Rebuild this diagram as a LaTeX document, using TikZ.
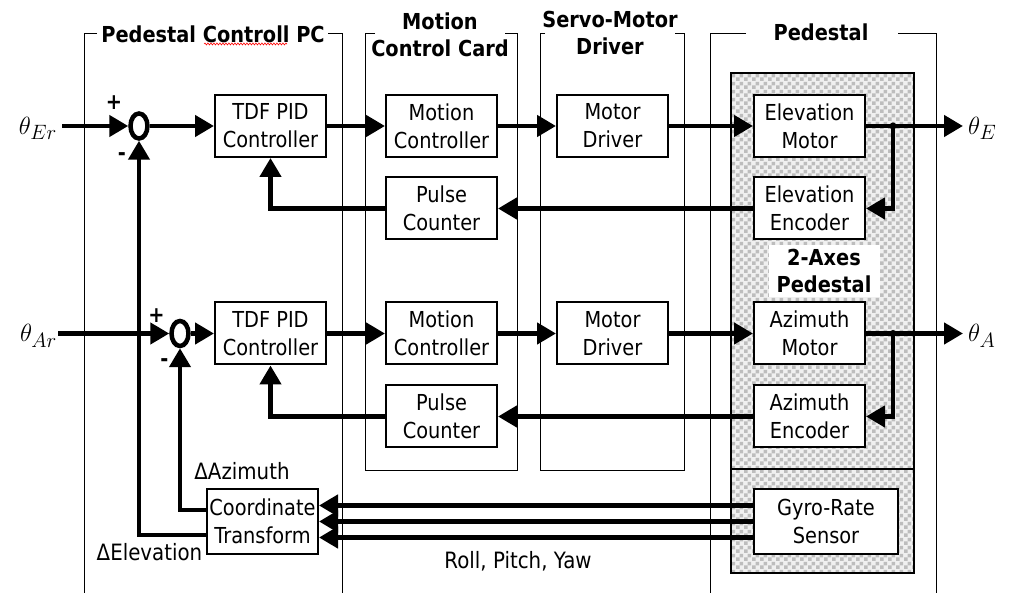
\documentclass[tikz,border=0pt]{standalone}
\usepackage{fontspec}
\setmainfont{DejaVu Sans}[FakeStretch=0.88]
\usetikzlibrary{arrows.meta,shapes.geometric,patterns.meta,decorations.pathmorphing}
\tikzdeclarepattern{
  name=chk,
  type=uncolored,
  bounding box={(0pt,0pt) and (8pt,8pt)},
  tile size={(8pt,8pt)},
  code={\fill (0pt,0pt) rectangle (4pt,4pt); \fill (4pt,4pt) rectangle (8pt,8pt);}
}
\tikzset{
  blk/.style={draw, line width=2pt, fill=white, minimum width=111pt, minimum height=62pt,
    align=center, inner sep=0pt, font=\fontsize{22}{28}\selectfont},
  ttl/.style={font=\bfseries\fontsize{22}{27}\selectfont, align=center, inner sep=0pt},
  frm/.style={line width=1pt},
  sig/.style={line width=4.5pt, -{Triangle[length=19pt,width=21pt]}},
  sumnode/.style={ellipse, draw, line width=4.5pt, minimum width=17pt, minimum height=25pt, inner sep=0pt},
  sgn/.style={font=\bfseries\fontsize{22}{22}\selectfont, inner sep=0pt},
  lbl/.style={font=\fontsize{22.5}{24}\selectfont, inner sep=0pt},
  thl/.style={font=\fontsize{32}{32}\selectfont, inner ysep=0pt}
}
\begin{document}
\begin{tikzpicture}[x=1pt,y=-1pt]
\useasboundingbox (0,0) rectangle (1010,593);
\fill[white] (0,0) rectangle (1010,593);
% frames
\draw[frm] (97,34) -- (84,34) -- (84,593);
\draw[frm] (328,34) -- (342,34) -- (342,593);
\node[ttl] (tPC) at (213,34) {Pedestal Controll PC};
\draw[red, line width=0.6pt, decorate, decoration={snake, amplitude=1pt, segment length=3pt}] (204,44) -- (287,44);
\draw[frm] (375,34) -- (365,34) -- (365,471) -- (517,471) -- (517,34) -- (505,34);
\node[ttl] (tMC) at (440,35) {Motion\\Control Card};
\draw[frm] (545,34) -- (540,34) -- (540,471) -- (684,471) -- (684,34) -- (675,34);
\node[ttl] (tSD) at (610,33) {Servo-Motor\\Driver};
\draw[frm] (746,34) -- (710,34) -- (710,593);
\draw[frm] (898,34) -- (936,34) -- (936,593);
\node[ttl] (tPD) at (821,32) {Pedestal};
% pedestal shaded box
\fill[white!94!black] (731,73) rectangle (914,573);
\fill[pattern=chk, pattern color=black!26] (731,73) rectangle (914,573);
\draw[line width=2pt] (731,73) rectangle (914,573);
\draw[line width=2pt] (731,469) -- (914,469);
\node[ttl, fill=white, minimum width=111pt, minimum height=52pt] (ax) at (824,271) {2-Axes\\Pedestal};
% blocks
\node[blk] (pidE) at (270.5,126) {TDF PID\\Controller};
\node[blk] (mcE) at (441.5,126) {Motion\\Controller};
\node[blk] (mdE) at (612.5,126) {Motor\\Driver};
\node[blk] (emE) at (809.5,126) {Elevation\\Motor};
\node[blk] (pcE) at (441.5,208.5) {Pulse\\Counter};
\node[blk] (enE) at (809.5,208.5) {Elevation\\Encoder};
\node[blk] (pidA) at (270.5,333.5) {TDF PID\\Controller};
\node[blk] (mcA) at (441.5,333.5) {Motion\\Controller};
\node[blk] (mdA) at (612.5,333.5) {Motor\\Driver};
\node[blk] (emA) at (809.5,333.5) {Azimuth\\Motor};
\node[blk] (pcA) at (441.5,416.5) {Pulse\\Counter};
\node[blk] (enA) at (809.5,416.5) {Azimuth\\Encoder};
\node[blk, minimum height=65pt] (ct) at (262.5,521.5) {Coordinate\\Transform};
\node[blk, minimum width=144pt, minimum height=64pt] (gy) at (826,521.5) {Gyro-Rate\\Sensor};
% summing junctions
\node[sumnode] (sE) at (139,126) {};
\node[sumnode] (sA) at (180,333.5) {};
\node[sgn] (pE) at (114,103) {+};
\node[sgn] (mE) at (122,157) {-};
\node[sgn] (pA) at (156.5,316) {+};
\node[sgn] (mA) at (164.5,363) {-};
% inputs / outputs
\node[thl, anchor=east, inner xsep=5pt] (thEr) at (62,128.5) {$\theta_{Er}$};
\node[thl, anchor=east, inner xsep=1pt] (thAr) at (58,336) {$\theta_{Ar}$};
\node[thl, anchor=west, inner xsep=5pt] (thE) at (963,128.5) {$\theta_E$};
\node[thl, anchor=west, inner xsep=5pt] (thA) at (963,336) {$\theta_A$};
% elevation loop
\draw[sig] (thEr.east |- sE.west) -- (sE.west);
\draw[sig] (sE.east) -- (pidE.west);
\draw[sig] (pidE.east) -- (mcE.west);
\draw[sig] (mcE.east) -- (mdE.west);
\draw[sig] (mdE.east) -- (emE.west);
\draw[sig] (emE.east) -- (thE.west |- emE.east);
\coordinate (jE) at (893,126);
\draw[sig] (jE) |- (enE.east);
\fill (jE) circle (3.5pt);
\draw[sig] (enE.west) -- (pcE.east);
\draw[sig] (pcE.west) -| (pidE.south);
% azimuth loop
\draw[sig] (thAr.east |- sA.west) -- (sA.west);
\draw[sig] (sA.east) -- (pidA.west);
\draw[sig] (pidA.east) -- (mcA.west);
\draw[sig] (mcA.east) -- (mdA.west);
\draw[sig] (mdA.east) -- (emA.west);
\draw[sig] (emA.east) -- (thA.west |- emA.east);
\coordinate (jA) at (893,333.5);
\draw[sig] (jA) |- (enA.east);
\fill (jA) circle (3.5pt);
\draw[sig] (enA.west) -- (pcA.east);
\draw[sig] (pcA.west) -| (pidA.south);
% coordinate transform feedback
\draw[sig] ([yshift=-13.5pt]ct.west) -| (sE.south);
\draw[sig] ([yshift=11.5pt]ct.west) -| (sA.south);
\foreach \d in {16,0,-16} \draw[sig] ([yshift=\d pt]gy.west) -- ([yshift=\d pt]ct.east);
% labels
\node[lbl] (dAz) at (242,471) {ΔAzimuth};
\node[lbl] (dEl) at (149.5,552) {ΔElevation};
\node[lbl] (rpy) at (518,561) {Roll, Pitch, Yaw};
\end{tikzpicture}
\end{document}
